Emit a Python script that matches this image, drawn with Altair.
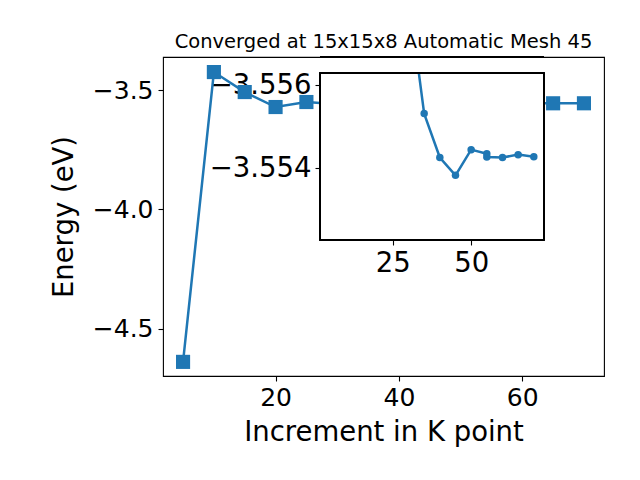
import altair as alt
import pandas as pd

# ---- data ----
k_points = [5, 10, 15, 20, 25, 30, 35, 40, 45, 50, 55, 55, 60, 65, 70]
energies = [-4.6397, -3.4232, -3.5071, -3.5700, -3.5490, -3.5582, -3.55532,
            -3.55426, -3.55383, -3.55445, -3.55435, -3.55427, -3.55426,
            -3.55433, -3.55428]
main_x_ticks = [20, 40, 60]
main_y_ticks = [-4.5, -4.0, -3.5]
inset_x_ticks = [25, 50]
inset_y_ticks = [-3.556, -3.554]
inset_start = 30
title_text = "Converged at 15x15x8 Automatic Mesh 45"

df = pd.DataFrame({"k": k_points, "E": energies, "order": list(range(len(k_points)))})
inset_df = df[df["k"] >= inset_start]

FONT = "DejaVu Sans"
BLUE = "#1f77b4"
W, H = 441, 319
# inset placement inside the main plot area (pixels)
IX0, IX1, IY0, IY1 = 157, 381, 16, 183

axis_common = dict(domain=False, grid=False, ticks=True, tickColor="black",
                   tickSize=5, tickWidth=1.1, labelColor="black", labelFont=FONT,
                   titleFont=FONT, titleColor="black", titleFontWeight="normal")

x_dom = [1.75, 73.25]
inset_y_dom = [-3.5563, -3.55227]
# value of the inset y scale that lands on the top edge of the main frame
cover_top = inset_y_dom[0] - IY0 * (inset_y_dom[1] - inset_y_dom[0]) / (IY1 - IY0)

mx = alt.X("k:Q", scale=alt.Scale(domain=x_dom, nice=False, zero=False),
           axis=alt.Axis(values=main_x_ticks, format="d", title="Increment in K point",
                         orient="bottom", labelFontSize=25, titleFontSize=27.5,
                         labelPadding=4, titlePadding=8, **axis_common))
my = alt.Y("E:Q", scale=alt.Scale(domain=[-4.699, -3.36], nice=False, zero=False),
           axis=alt.Axis(values=main_y_ticks, format=".1f", title="Energy (eV)",
                         orient="left", labelFontSize=25, titleFontSize=27.5,
                         labelPadding=5, titlePadding=14, **axis_common))

base = alt.Chart(df)
main = alt.layer(
    base.mark_line(color=BLUE, strokeWidth=2.5).encode(x=mx, y=my, order="order:Q"),
    base.mark_point(shape="square", filled=True, size=200, color=BLUE, opacity=1).encode(x=mx, y=my),
)

ix_scale = alt.Scale(domain=x_dom, range=[IX0, IX1], nice=False, zero=False)
iy_scale = alt.Scale(domain=inset_y_dom, range=[IY0, IY1], nice=False, zero=False)
ix_axis = alt.Axis(values=inset_x_ticks, format="d", title=None, orient="bottom",
                   offset=-(H - IY1), labelFontSize=27.5, labelPadding=4, **axis_common)
iy_axis = alt.Axis(values=inset_y_ticks, format=".3f", title=None, orient="left",
                   offset=-IX0, labelFontSize=27.5, labelPadding=4, **axis_common)

ix = alt.X("k:Q", scale=ix_scale, axis=ix_axis)
iy = alt.Y("E:Q", scale=iy_scale, axis=iy_axis)

ibase = alt.Chart(inset_df)
frame_fill = ibase.mark_rect(fill="white", strokeWidth=0).encode(
    x=alt.datum(x_dom[0], scale=ix_scale, axis=ix_axis),
    x2=alt.datum(x_dom[1]),
    y=alt.datum(inset_y_dom[0], scale=iy_scale, axis=iy_axis),
    y2=alt.datum(inset_y_dom[1]),
)
cover = ibase.mark_rect(fill="white", strokeWidth=0).encode(
    x=alt.datum(x_dom[0]), x2=alt.datum(x_dom[1]),
    y=alt.datum(cover_top), y2=alt.datum(inset_y_dom[0]),
)
top_edge = ibase.mark_rule(color="black", strokeWidth=1.1).encode(
    x=alt.datum(x_dom[0]), x2=alt.datum(x_dom[1]), y=alt.datum(cover_top),
)
frame_stroke = ibase.mark_rect(fillOpacity=0, stroke="black", strokeWidth=1.1).encode(
    x=alt.datum(x_dom[0]), x2=alt.datum(x_dom[1]),
    y=alt.datum(inset_y_dom[0]), y2=alt.datum(inset_y_dom[1]),
)
inset = alt.layer(
    frame_fill,
    ibase.mark_line(color=BLUE, strokeWidth=2.5, clip=True).encode(x=ix, y=iy, order="order:Q"),
    ibase.mark_circle(color=BLUE, size=56, opacity=1, clip=True).encode(x=ix, y=iy),
    cover,
    top_edge,
    frame_stroke,
)

chart = alt.layer(main, inset).resolve_scale(
    x="independent", y="independent"
).resolve_axis(
    x="independent", y="independent"
).properties(
    width=W, height=H,
    title=alt.TitleParams(text=title_text, fontSize=19.5, font=FONT, fontWeight="normal",
                          color="black", anchor="middle", offset=4),
    autosize=alt.AutoSizeParams(type="none"),
    padding={"left": 155, "top": 49, "right": 28, "bottom": 90},
).configure(
    font=FONT,
    view=alt.ViewConfig(stroke="black", strokeWidth=1.1),
)

chart.save("out.html", embed_options={"renderer": "svg", "actions": False})
